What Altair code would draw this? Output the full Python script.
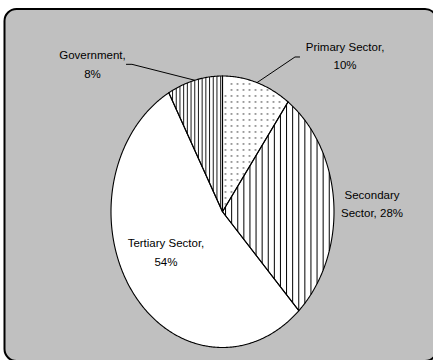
import math
import numpy as np
import pandas as pd
import altair as alt

# ---------------- data ----------------
categories = ["Primary Sector", "Secondary Sector", "Tertiary Sector", "Government"]
shares = [10, 28, 54, 8]
label_lines = [
    "Primary Sector,\n10%",
    "Secondary\nSector, 28%",
    "Tertiary Sector,\n54%",
    "Government,\n8%",
]

# ---------------- layout (pixels / unit-radius offsets) ----------------
W, H = 433, 360
X_RANGE = [111, 334]      # ellipse left/right edge in px
Y_RANGE = [347.5, 76]     # ellipse bottom/top edge in px
SX = (X_RANGE[1] - X_RANGE[0]) / 2.0
SY = (Y_RANGE[0] - Y_RANGE[1]) / 2.0

# label anchors (centre x, first baseline) in unit-radius coordinates
label_pos = {
    "Primary Sector": (1.099, 1.186),
    "Secondary Sector": (1.341, 0.094),
    "Tertiary Sector": (-0.507, -0.262),
    "Government": (-1.166, 1.123),
}
# leader line elbows (unit-radius coordinates)
leader_pts = {
    "Primary Sector": [(0.650, 1.140), (0.695, 1.140)],
    "Government": [(-0.812, 1.086), (-0.865, 1.086)],
}
pattern_style = {
    "Primary Sector": ("dots", 6.0),
    "Secondary Sector": ("vlines", 6.1),
    "Tertiary Sector": ("none", 0),
    "Government": ("vlines_dense", 3.7),
}

total = float(sum(shares))
angles = []
acc = 0.0
for v in shares:
    a0 = 2 * math.pi * acc / total
    acc += v
    a1 = 2 * math.pi * acc / total
    angles.append((a0, a1))


def in_wedge(ux, uy, a0, a1, rmax=1.0, amargin=0.0):
    r2 = ux * ux + uy * uy
    ang = np.mod(np.arctan2(ux, uy), 2 * math.pi)
    return (r2 <= rmax * rmax) & (ang >= a0 + amargin) & (ang <= a1 - amargin)


# slice polygons
poly_rows = []
for cat, (a0, a1) in zip(categories, angles):
    n = max(3, int(math.degrees(a1 - a0) * 2))
    pts = [(0.0, 0.0)] + [(math.sin(a), math.cos(a)) for a in np.linspace(a0, a1, n)] + [(0.0, 0.0)]
    for k, (x, y) in enumerate(pts):
        poly_rows.append({"cat": cat, "k": k, "ux": x, "uy": y})
poly = pd.DataFrame(poly_rows)

# patterns
hatch_rows = []
dot_rows = []
ys = np.linspace(-1, 1, 4001)
for cat, (a0, a1) in zip(categories, angles):
    kind, sp = pattern_style[cat]
    if kind.startswith("vlines"):
        step = sp / SX
        for j in range(-40, 80):
            ux = (j + 0.5) * step
            if abs(ux) >= 1:
                continue
            m = in_wedge(ux, ys, a0, a1)
            if m.sum() < 2:
                continue
            yy = ys[m]
            hatch_rows.append({"cat": cat, "ux": ux, "y0": yy.min(), "y1": yy.max(),
                               "w": 1.0 if kind == "vlines" else 0.9})
    elif kind == "dots":
        stepx = sp / SX
        stepy = sp / SY
        for i in range(-30, 30):
            for j in range(-30, 30):
                ux = (i + 0.5) * stepx
                uy = (j + 0.3) * stepy
                if in_wedge(np.array([ux]), np.array([uy]), a0, a1, rmax=0.985, amargin=0.03)[0]:
                    dot_rows.append({"cat": cat, "ux": ux, "uy": uy})
hatch = pd.DataFrame(hatch_rows)
dots = pd.DataFrame(dot_rows)

# leader lines
lead_rows = []
for cat, (a0, a1) in zip(categories, angles):
    if cat not in leader_pts:
        continue
    mid = (a0 + a1) / 2
    pts = [(math.sin(mid), math.cos(mid))] + leader_pts[cat]
    for k, (x, y) in enumerate(pts):
        lead_rows.append({"cat": cat, "k": k, "ux": x, "uy": y})
leads = pd.DataFrame(lead_rows)

labels = pd.DataFrame({
    "cat": categories,
    "text": label_lines,
    "ux": [label_pos[c][0] for c in categories],
    "uy": [label_pos[c][1] for c in categories],
})

xs = alt.Scale(domain=[-1, 1], range=X_RANGE, nice=False, zero=False)
yscale = alt.Scale(domain=[-1, 1], range=Y_RANGE, nice=False, zero=False)


def X(f="ux"):
    return alt.X(f"{f}:Q", scale=xs, axis=None)


def Y(f="uy"):
    return alt.Y(f"{f}:Q", scale=yscale, axis=None)


frame = alt.Chart(pd.DataFrame({"a": [0]})).mark_rect(
    fill="#c0c0c0", stroke="#000000", strokeWidth=2, cornerRadius=12, clip=True
).encode(x=alt.value(4.5), x2=alt.value(437), y=alt.value(9), y2=alt.value(361))

fills = alt.Chart(poly).mark_line(fill="white", strokeOpacity=0, interpolate="linear").encode(
    x=X(), y=Y(), detail="cat:N", order="k:Q"
)

hatch_layer = alt.Chart(hatch).mark_rule(color="#000000").encode(
    x=X(), y=Y("y0"), y2="y1:Q", strokeWidth=alt.StrokeWidth("w:Q", scale=None)
)

dot_layer = alt.Chart(dots).mark_square(color="#9a9a9a", size=3.5, opacity=1, filled=True).encode(
    x=X(), y=Y()
)

outline = alt.Chart(poly).mark_line(color="#000000", strokeWidth=1.1, interpolate="linear").encode(
    x=X(), y=Y(), detail="cat:N", order="k:Q"
)

leader = alt.Chart(leads).mark_line(color="#000000", strokeWidth=1).encode(
    x=X(), y=Y(), detail="cat:N", order="k:Q"
)

text = alt.Chart(labels).mark_text(
    align="center", baseline="alphabetic", lineBreak="\n", lineHeight=18.5,
    font="Liberation Sans", fontSize=11.5, color="#000000"
).encode(x=X(), y=Y(), text="text:N")

chart = alt.layer(frame, fills, hatch_layer, dot_layer, outline, leader, text).properties(
    width=W, height=H, padding=0, autosize=alt.AutoSizeParams(type="none"),
    background="white"
).configure_view(strokeWidth=0)

chart.save("out.html", embed_options={"renderer": "svg", "actions": False})
